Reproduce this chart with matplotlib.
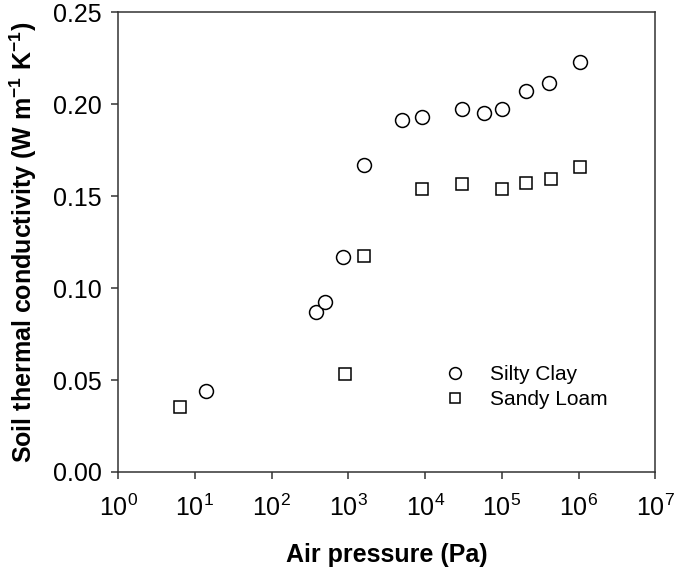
import matplotlib
matplotlib.use("Agg")
from matplotlib import pyplot as plt
from matplotlib.ticker import LogLocator, NullLocator, LogFormatterSciNotation

# data
silty_p = [14, 373, 500, 861, 1590, 4970, 9000, 29900, 58900, 100000, 205000, 405000, 1030000]
silty_k = [0.0439, 0.0868, 0.0925, 0.1171, 0.1667, 0.1916, 0.1929, 0.1974, 0.1950, 0.1974, 0.2073, 0.2113, 0.2227]

sandy_p = [6.4, 897, 1590, 9000, 29900, 100000, 205000, 437000, 1030000]
sandy_k = [0.0356, 0.0533, 0.1173, 0.1537, 0.1564, 0.1540, 0.1569, 0.1594, 0.1659]


def main():
    plt.rcParams['font.family'] = ['Liberation Sans', 'DejaVu Sans']
    plt.rcParams['mathtext.default'] = 'regular'

    fig = plt.figure(figsize=(6.75, 5.69), dpi=100)
    ax = fig.add_axes([0.175, 0.1705, 0.796, 0.808])

    ax.plot(silty_p, silty_k, 'o', mfc='white', mec='black', mew=1.1,
            ms=10, label='Silty Clay')
    ax.plot(sandy_p, sandy_k, 's', mfc='white', mec='black', mew=1.1,
            ms=8, label='Sandy Loam')

    ax.set_xscale('log')
    ax.set_xlim(1, 1e7)
    ax.set_ylim(0, 0.25)
    ax.xaxis.set_major_locator(LogLocator(base=10, numticks=10))
    ax.xaxis.set_minor_locator(NullLocator())
    ax.xaxis.set_major_formatter(LogFormatterSciNotation())
    ax.set_yticks([0, 0.05, 0.10, 0.15, 0.20, 0.25])
    ax.set_yticklabels(['0.00', '0.05', '0.10', '0.15', '0.20', '0.25'])

    for s in ax.spines.values():
        s.set_color('#333333')
        s.set_linewidth(1.1)
    ax.tick_params(direction='out', length=5, width=1.1, color='#333333',
                   labelsize=18)
    ax.tick_params(axis='y', pad=7)
    ax.tick_params(axis='x', pad=11)

    ax.set_xlabel('Air pressure (Pa)', fontsize=18, fontweight='bold', labelpad=16)
    ax.set_ylabel('Soil thermal conductivity (W m$^{-1}$ K$^{-1}$)',
                  fontsize=18, fontweight='bold', labelpad=10)

    ax.legend(loc='center left', bbox_to_anchor=(0.553, 0.185), frameon=False,
              fontsize=15, handletextpad=0.68, labelspacing=0.3,
              markerscale=0.85)

    plt.savefig('out.png', dpi=100)


if __name__ == "__main__":
    main()
